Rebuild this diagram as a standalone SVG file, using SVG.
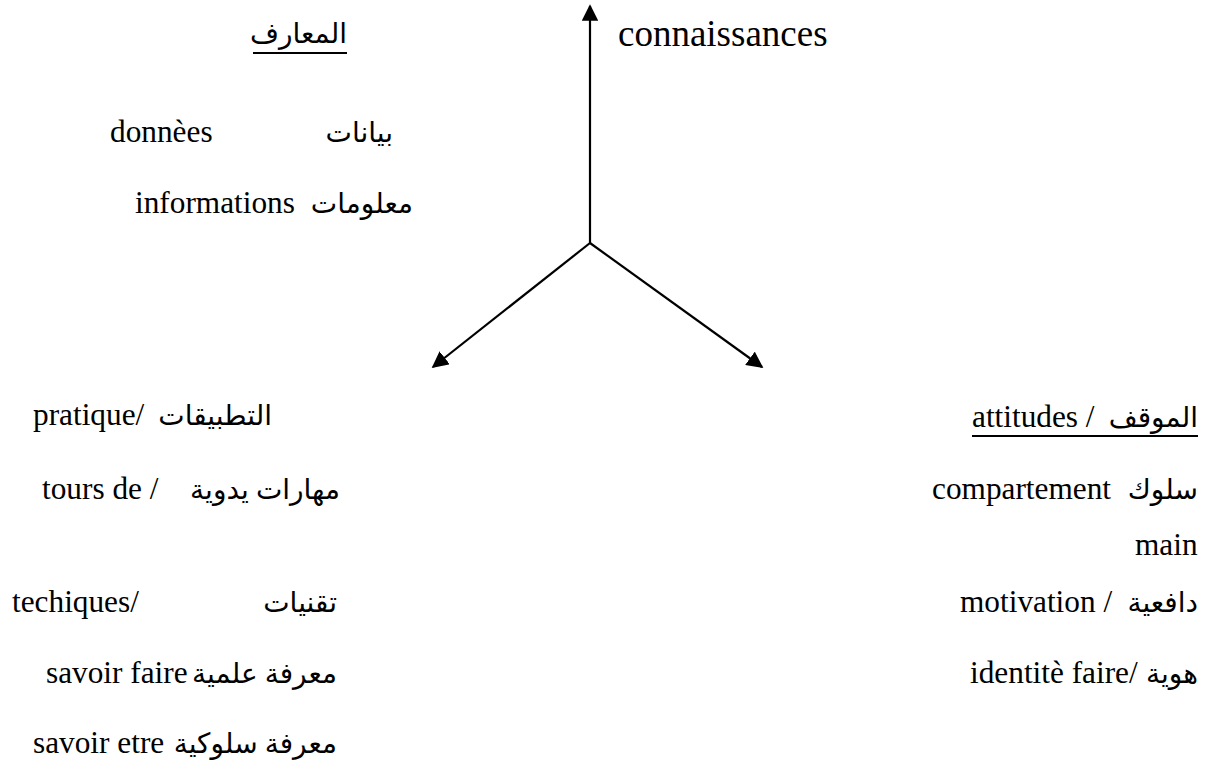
<svg xmlns="http://www.w3.org/2000/svg" width="1209" height="765" viewBox="0 0 1209 765">
<style>
.lat{font-family:"Liberation Serif","Times New Roman",serif;font-size:31.3px;fill:#000}
.big{font-family:"Liberation Serif","Times New Roman",serif;font-size:37px;fill:#000}
.ar{font-family:"Liberation Serif","DejaVu Sans",sans-serif;font-size:28px;fill:#000;text-anchor:end}
.ul{stroke:#000;stroke-width:2}
.conn{stroke:#000;stroke-width:2.2;fill:none}
</style>
<defs>
<marker id="ah" viewBox="0 0 10 10" refX="9" refY="5" markerWidth="7.5" markerHeight="7.5" markerUnits="strokeWidth" orient="auto">
<path d="M0,0 L10,5 L0,10 z" fill="#000"/>
</marker>
</defs>
<rect width="1209" height="765" fill="#fff"/>
<g id="connectors">
<line class="conn" x1="590" y1="243" x2="590" y2="6" marker-end="url(#ah)"/>
<line class="conn" x1="590" y1="243" x2="433" y2="367" marker-end="url(#ah)"/>
<line class="conn" x1="590" y1="243" x2="762" y2="367" marker-end="url(#ah)"/>
</g>
<g id="node-connaissances">
<text class="big" x="618" y="46">connaissances</text>
</g>
<g id="node-maarif">
<text class="ar" x="347" y="43">المعارف</text>
<line class="ul" x1="253" y1="53" x2="347" y2="53"/>
<text class="lat" x="110" y="142">donnèes</text>
<text class="ar" x="393" y="142">بيانات</text>
<text class="lat" x="135" y="213">informations</text>
<text class="ar" x="413" y="213">معلومات</text>
</g>
<g id="node-pratique">
<text class="lat" x="33" y="425">pratique/</text>
<text class="ar" x="272" y="425">التطبيقات</text>
<text class="lat" x="42" y="499">tours de /</text>
<text class="ar" x="340" y="499">مهارات يدوية</text>
<text class="lat" x="12" y="612">techiques/</text>
<text class="ar" x="337" y="612">تقنيات</text>
<text class="lat" x="46" y="683">savoir faire</text>
<text class="ar" x="337" y="683">معرفة علمية</text>
<text class="lat" x="33" y="753">savoir etre</text>
<text class="ar" x="337" y="753">معرفة سلوكية</text>
</g>
<g id="node-attitudes">
<text class="lat" x="972" y="427">attitudes /</text>
<text class="ar" x="1198" y="427">الموقف</text>
<line class="ul" x1="972" y1="436" x2="1198" y2="436"/>
<text class="lat" x="932" y="499">compartement</text>
<text class="ar" x="1198" y="499">سلوك</text>
<text class="lat" x="1135" y="555">main</text>
<text class="lat" x="960" y="612">motivation /</text>
<text class="ar" x="1198" y="612">دافعية</text>
<text class="lat" x="970" y="683">identitè faire/</text>
<text class="ar" x="1198" y="683">هوية</text>
</g>
</svg>
